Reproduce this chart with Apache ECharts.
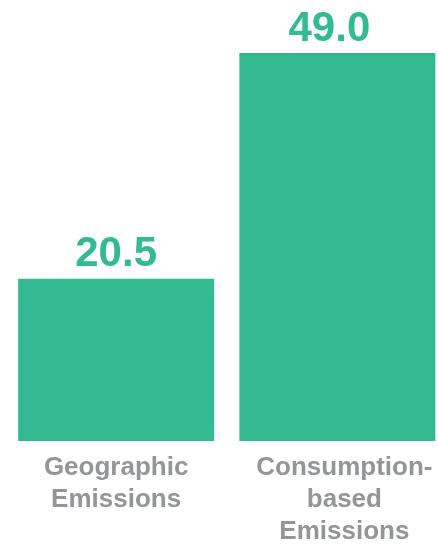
<!DOCTYPE html>
<html><head><meta charset="utf-8">
<script src="https://cdn.jsdelivr.net/npm/echarts@6/dist/echarts.min.js"></script>
<style>html,body{margin:0;padding:0;background:#fff;overflow:hidden}#c{width:448px;height:544px}</style>
</head><body><div id="c"></div>
<script>
const categories = ['Geographic\nEmissions', 'Consumption-\nbased\nEmissions'];
const values = [20.5, 49.0];
const green = '#33BA92';
const grey = '#939598';
const font = 'Liberation Sans, Arial, sans-serif';
const chart = echarts.init(document.getElementById('c'));
chart.setOption({
  animation: false,
  grid: {left: 5.5, right: 0, top: 53, bottom: 103, containLabel: false, outerBoundsMode: 'none'},
  xAxis: {
    type: 'category',
    data: categories,
    axisLine: {show: false}, axisTick: {show: false},
    axisLabel: {
      color: grey, fontFamily: font, fontWeight: 'bold', fontSize: 26, lineHeight: 32, margin: 11, interval: 0,
      formatter: (v, i) => i === 1 ? v.split('\n').map(l => '{s|' + l + '}').join('\n') : v,
      rich: {s: {color: grey, fontFamily: font, fontWeight: 'bold', fontSize: 26, lineHeight: 32, padding: [0, 0, 0, 14]}}
    }
  },
  yAxis: {type: 'value', min: 0, max: 49, show: false, splitLine: {show: false}},
  series: [{
    type: 'bar',
    data: values.map((v, i) => i === 1 ? {value: v, label: {offset: [-8, 0]}} : v),
    barWidth: 196,
    itemStyle: {color: green},
    label: {show: true, position: 'top', distance: 3, color: green, fontFamily: font, fontWeight: 'bold', fontSize: 42, formatter: p => p.value.toFixed(1)}
  }]
});
</script></body></html>
